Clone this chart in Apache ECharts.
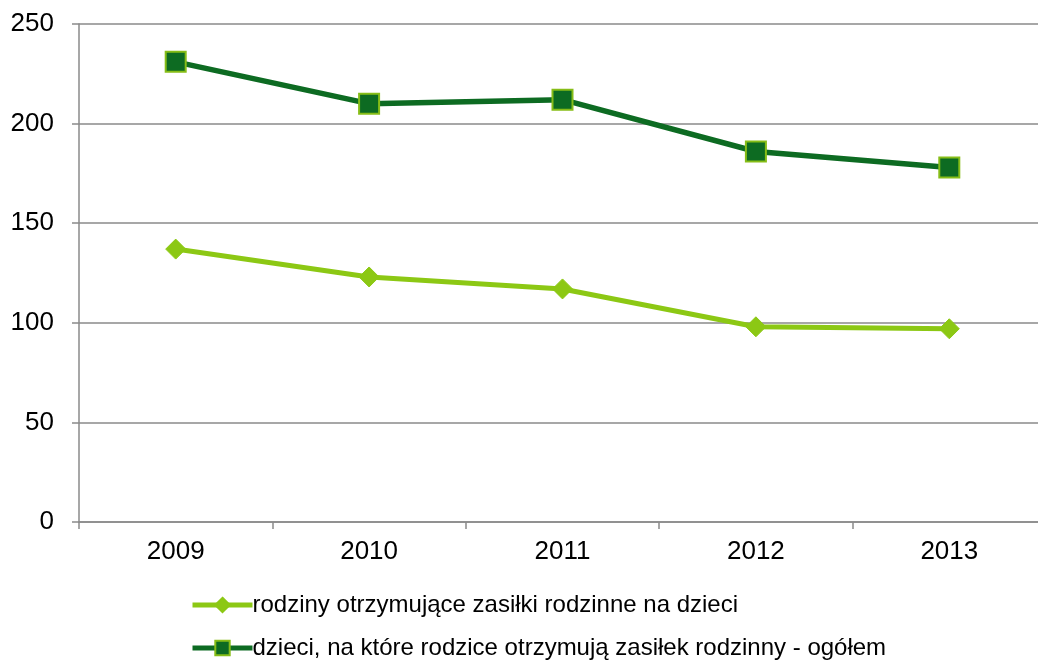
<!DOCTYPE html>
<html><head><meta charset="utf-8">
<script src="https://cdn.jsdelivr.net/npm/echarts@6/dist/echarts.min.js"></script>
<style>html,body{margin:0;padding:0;background:#fff;overflow:hidden}#c{width:1046px;height:662px}</style>
</head><body><div id="c"></div>
<script>
const categories = ['2009','2010','2011','2012','2013'];
const seriesNames = ['rodziny otrzymujące zasiłki rodzinne na dzieci','dzieci, na które rodzice otrzymują zasiłek rodzinny - ogółem'];
const families = [137,123,117,98,97];
const children = [231,210,212,186,178];
const yTicks = {min:0,max:250,interval:50};

const chart = echarts.init(document.getElementById('c'));
const font = 'Liberation Sans, Arial, sans-serif';
const legendBase = {orient:'horizontal',left:185,itemWidth:60,itemHeight:18,
    textStyle:{color:'#000',fontSize:24,fontFamily:font,padding:[0,0,0,-5]},
    lineStyle:{width:5}};
chart.setOption({
  animation:false,
  grid:{left:79,top:24,right:0,bottom:140,containLabel:false},
  xAxis:{type:'category',data:categories,boundaryGap:true,
    axisLine:{lineStyle:{color:'#8a8a8a',width:1.5}},
    axisTick:{show:true,length:7,inside:false,lineStyle:{color:'#8a8a8a',width:1.5}},
    axisLabel:{color:'#000',fontSize:26,fontFamily:font,margin:17},
    splitLine:{show:false}},
  yAxis:{type:'value',min:yTicks.min,max:yTicks.max,interval:yTicks.interval,
    axisLine:{show:true,lineStyle:{color:'#8a8a8a',width:1.5}},
    axisTick:{show:true,length:7,lineStyle:{color:'#8a8a8a',width:1.5}},
    axisLabel:{color:'#000',fontSize:26,fontFamily:font,margin:25},
    splitLine:{show:true,lineStyle:{color:'#8a8a8a',width:1.5}}},
  legend:[
    Object.assign({top:588,data:[seriesNames[0]]},legendBase),
    Object.assign({top:631,data:[seriesNames[1]]},legendBase)
  ],
  series:[
    {name:seriesNames[0],type:'line',data:families,symbol:'diamond',symbolSize:20,
     lineStyle:{color:'#8cc814',width:5},itemStyle:{color:'#8cc814',borderColor:'#8cc814',borderWidth:1},z:3},
    {name:seriesNames[1],type:'line',data:children,symbol:'rect',symbolSize:20,
     lineStyle:{color:'#0d6b22',width:5.5},itemStyle:{color:'#0d6b22',borderColor:'#86bd17',borderWidth:2},z:4}
  ]
});
</script></body></html>
